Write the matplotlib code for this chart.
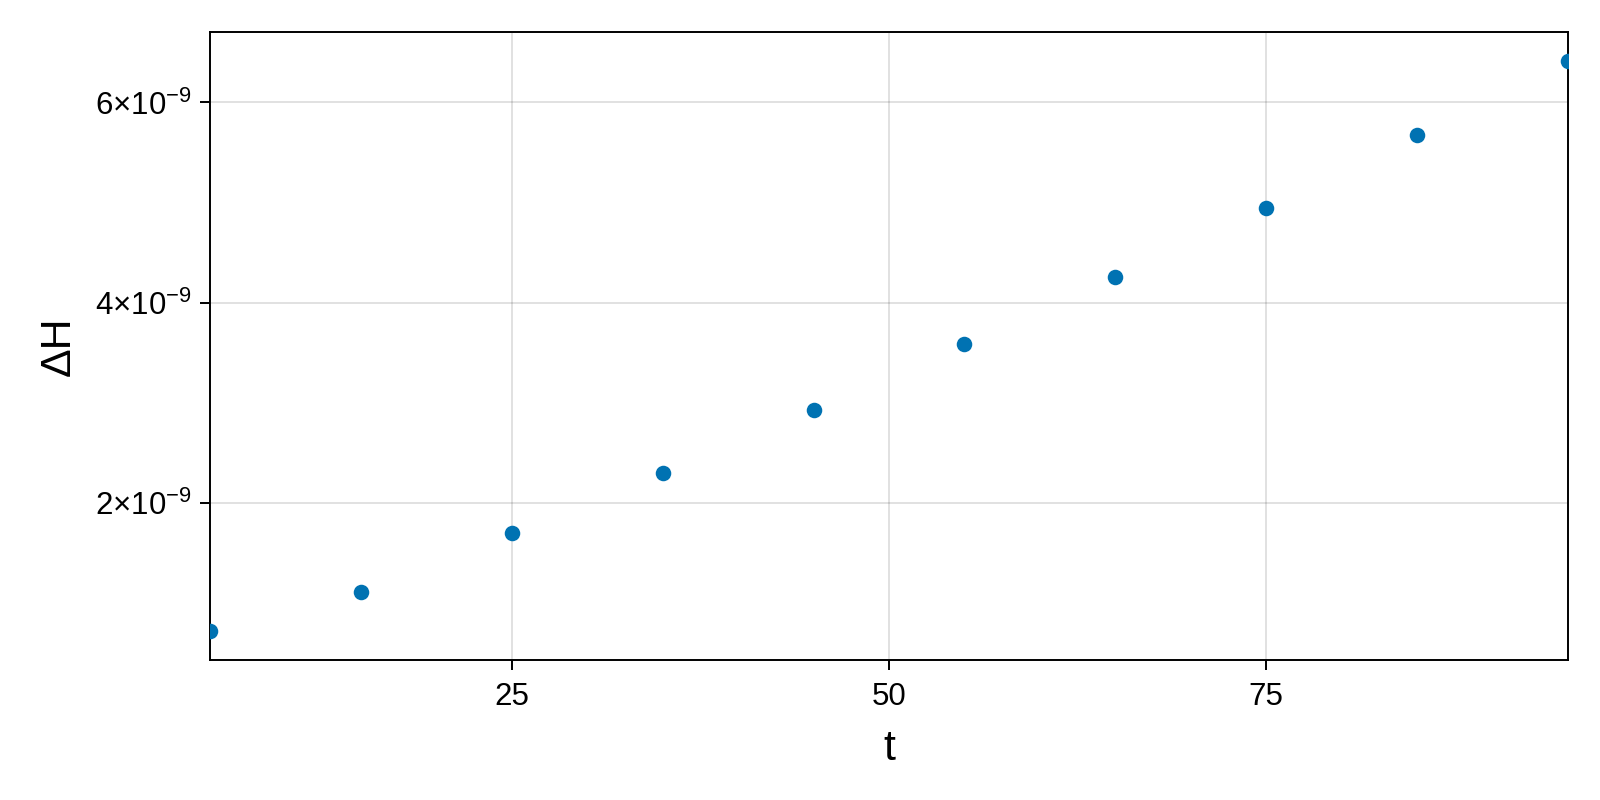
import numpy as np
import matplotlib
matplotlib.use("Agg")
import matplotlib.pyplot as plt
from matplotlib.ticker import FixedLocator, FuncFormatter

plt.rcParams['font.family'] = ['Liberation Sans', 'DejaVu Sans']
plt.rcParams['mathtext.fontset'] = 'custom'
plt.rcParams['mathtext.rm'] = 'Liberation Sans'
plt.rcParams['mathtext.it'] = 'Liberation Sans'

# data
t = [5, 15, 25, 35, 45, 55, 65, 75, 85, 95]
dH = [0.714e-9, 1.112e-9, 1.694e-9, 2.296e-9, 2.929e-9,
      3.582e-9, 4.255e-9, 4.949e-9, 5.673e-9, 6.418e-9]
xticks = [25, 50, 75]
yticks = [2e-9, 4e-9, 6e-9]

fig = plt.figure(figsize=(16, 8), dpi=100)
ax = fig.add_axes([0.13125, 0.175, 0.84875, 0.785])

ax.scatter(t, dH, s=125, color='#0072B2', zorder=3, linewidths=0)

# x limits are the data extent, y gets a 5% margin
ax.set_xlim(min(t), max(t))
rng = max(dH) - min(dH)
ax.set_ylim(min(dH) - 0.05 * rng, max(dH) + 0.05 * rng)

ax.xaxis.set_major_locator(FixedLocator(xticks))
ax.yaxis.set_major_locator(FixedLocator(yticks))

def sci(v, pos):
    m = v / 1e-9
    return r'$%d{\times}10^{-9}$' % round(m)

ax.yaxis.set_major_formatter(FuncFormatter(sci))

ax.grid(True, color='black', alpha=0.12, linewidth=1.4)
ax.set_axisbelow(True)
for sp in ax.spines.values():
    sp.set_linewidth(1.4)
ax.tick_params(direction='out', length=7, width=1.4, labelsize=22.5)
ax.tick_params(axis='x', pad=9)
ax.tick_params(axis='y', pad=6)

ax.set_xlabel('t', fontsize=31, labelpad=12)
ax.set_ylabel('ΔH', fontsize=31, labelpad=12)

fig.savefig('out.png', dpi=100)
